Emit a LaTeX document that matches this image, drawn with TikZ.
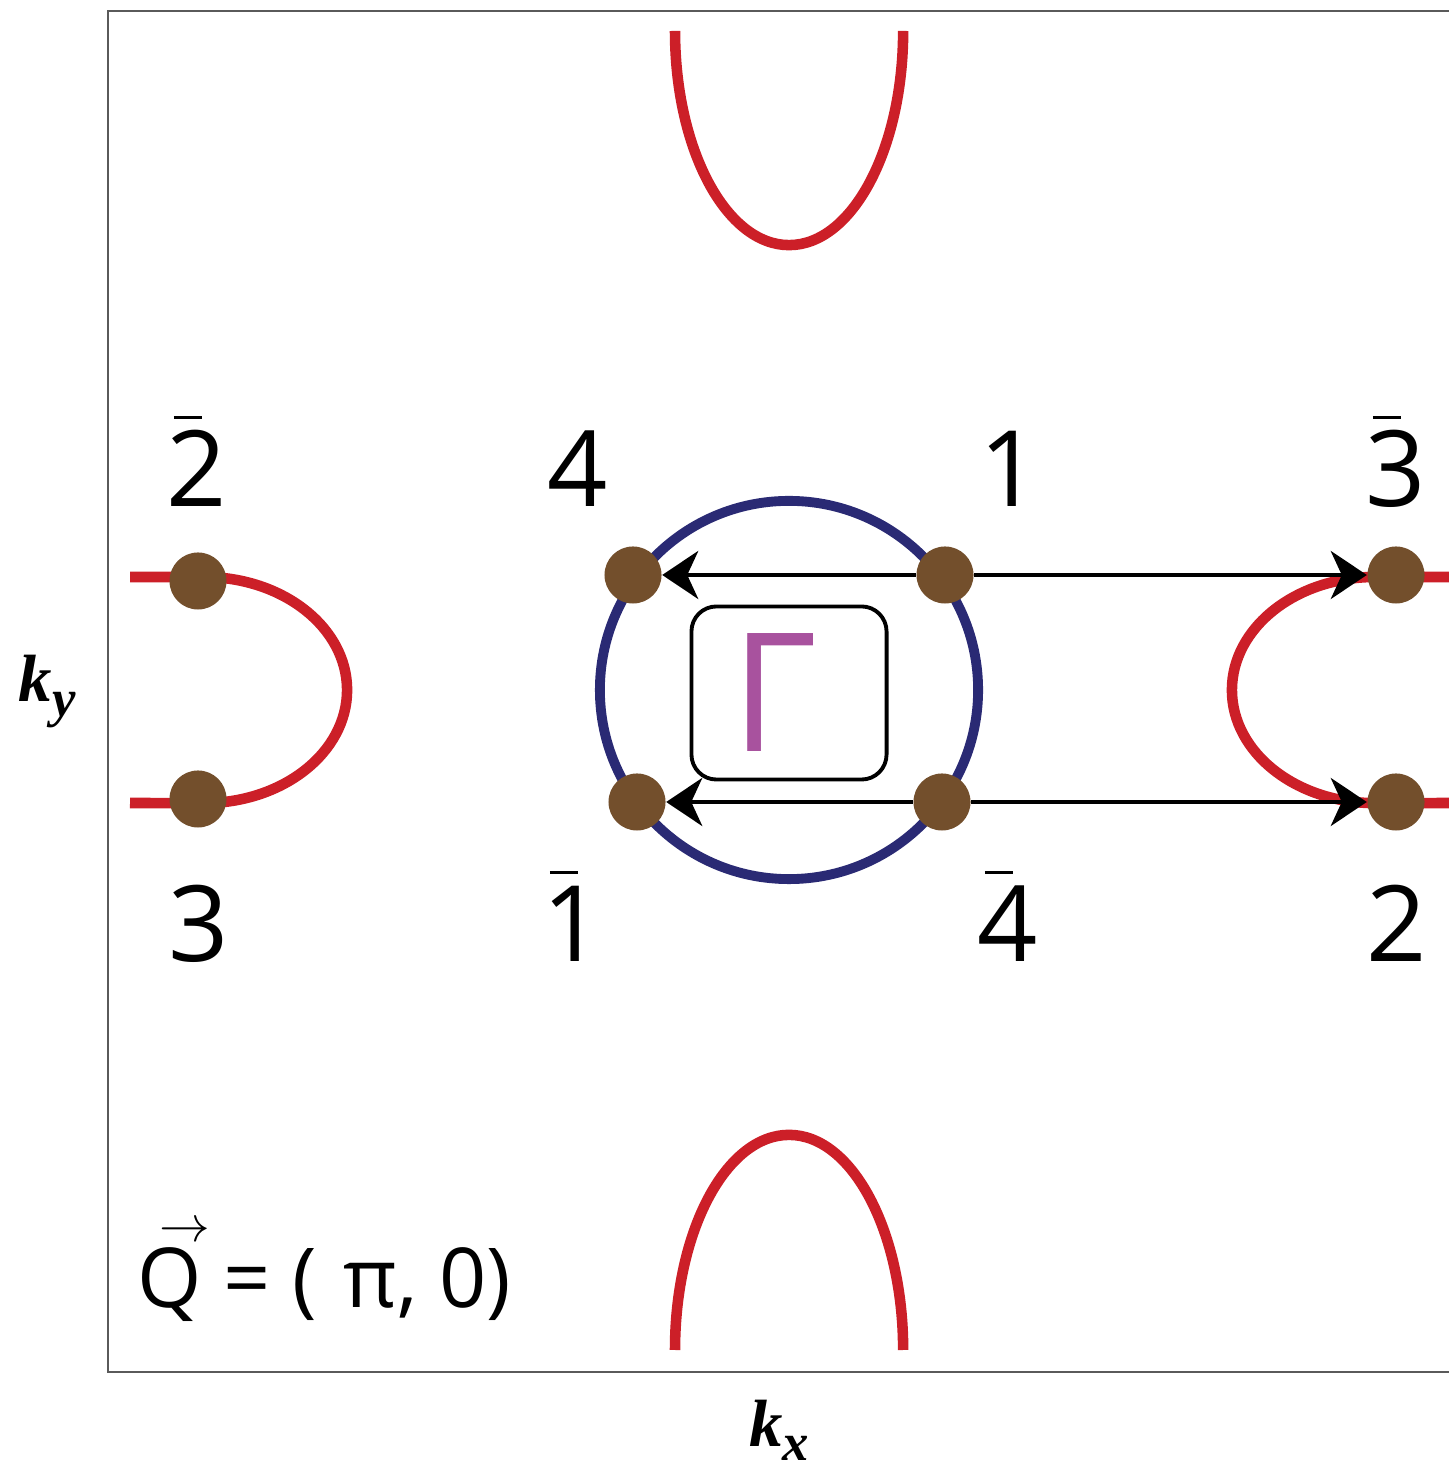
\documentclass[tikz,border=0pt]{standalone}
\usepackage{fontspec}
\setmainfont{Open Sans}
\newfontfamily\axisfont{Liberation Serif}
\usepackage{xcolor}
\usetikzlibrary{arrows.meta}
\definecolor{fermired}{RGB}{204,31,40}
\definecolor{pocketblue}{RGB}{42,42,116}
\definecolor{spotbrown}{RGB}{115,79,44}
\definecolor{gammapink}{RGB}{168,82,158}
\definecolor{framegray}{RGB}{90,90,90}
\newcommand{\barnum}[1]{\rlap{\hspace{2pt}\rule[25pt]{8pt}{0.9pt}}#1}

\begin{document}
\begin{tikzpicture}[
  x=0.01cm, y=0.01cm,
  fermi/.style={draw=fermired, line width=3pt},
  pocket/.style={draw=pocketblue, line width=2.8pt},
  spot/.style={circle, fill=spotbrown, minimum size=0.57cm, inner sep=0pt},
  arrow/.style={-{Stealth[length=0.36cm, width=0.48cm, inset=0.11cm]}, line width=1.1pt},
  num/.style={anchor=base, inner sep=0pt, font=\fontsize{30}{36}\selectfont},
  axis/.style={anchor=base, inner sep=0pt, font=\axisfont\bfseries\itshape\fontsize{19}{22}\selectfont},
  gbox/.style={draw, rounded corners=0.25cm, line width=1.1pt, minimum width=1.95cm, minimum height=1.73cm, inner sep=0pt, text=gammapink, font=\fontsize{47}{50}\selectfont}
]
  \useasboundingbox (0,0) rectangle (1448,1470);
  \draw[framegray, line width=0.6pt] (108,98) rectangle (1480,1459);

  \draw[fermi] (675,1439) arc[start angle=180, end angle=360, x radius=1.14cm, y radius=2.14cm];
  \draw[fermi] (675,120) arc[start angle=180, end angle=0, x radius=1.14cm, y radius=2.15cm];
  \draw[fermi] (130,893) -- (204,893) arc[start angle=90, end angle=-90, x radius=1.43cm, y radius=1.13cm] -- (130,667);
  \draw[fermi] (1460,893) -- (1375,893) arc[start angle=90, end angle=270, x radius=1.43cm, y radius=1.13cm] -- (1460,667);
  \draw[pocket] (789,780) circle[radius=1.89cm];

  \node[gbox] (gam) at (789,777) {Γ\hspace*{0.3cm}};

  \node[spot] (p4) at (633,895) {};
  \node[spot] (p1) at (945,895) {};
  \node[spot] (p3b) at (1396,895) {};
  \node[spot] (p1b) at (637,668) {};
  \node[spot] (p4b) at (942,668) {};
  \node[spot] (p2) at (1396,668) {};
  \node[spot] (p2b) at (198,889) {};
  \node[spot] (p3) at (198,671) {};

  \draw[arrow] (p1) -- (p4);
  \draw[arrow] (p1) -- (p3b);
  \draw[arrow] (p4b) -- (p1b);
  \draw[arrow] (p4b) -- (p2);

  \node[num] (l2b) at (197,963) {\barnum{2}};
  \node[num] (l4) at (578,963) {4};
  \node[num] (l1) at (1010,963) {1};
  \node[num] (l3b) at (1396,963) {\barnum{3}};
  \node[num] (l3) at (199,508) {3};
  \node[num] (l1b) at (573,508) {\barnum{1}};
  \node[num] (l4b) at (1008,508) {\barnum{4}};
  \node[num] (l2) at (1397,508) {2};

  \node[anchor=base west, inner sep=0pt, font=\fontsize{23.5}{28}\selectfont] (qvec) at (137,162)
    {\rlap{\hspace{0.22cm}\raisebox{0.66cm}{\fontsize{14}{14}\selectfont$\rightarrow$}}Q = (\hspace{0.27cm}π, 0)};
  \node[axis] (ky) at (47,768) {k\raisebox{-0.22em}{\fontsize{15}{15}\selectfont y}};
  \node[axis] (kx) at (779,24) {k\raisebox{-0.22em}{\fontsize{15}{15}\selectfont x}};
\end{tikzpicture}
\end{document}
